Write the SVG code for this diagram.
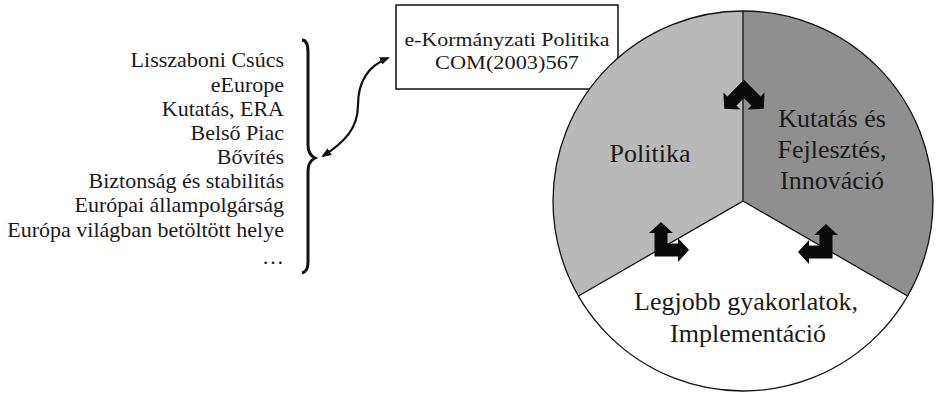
<svg xmlns="http://www.w3.org/2000/svg" width="937" height="396" viewBox="0 0 937 396">
<style>
.t{font-family:"Liberation Serif","Times New Roman",serif;fill:#1a1a1a}
.list{font-size:22px;text-anchor:end}
.box{font-size:19px;text-anchor:middle}
.big{font-size:26px;text-anchor:middle}
.line{fill:none;stroke:#111;stroke-width:1.3}
.arr{fill:#0a0a0a}
</style>
<defs>
<marker id="ah" viewBox="0 0 10 8" refX="8" refY="4" markerWidth="10" markerHeight="8" markerUnits="userSpaceOnUse" orient="auto-start-reverse">
<path d="M0,0 L10,4 L0,8 Z" fill="#111"/>
</marker>
<path id="elbow" d="M-6.5,6.5 L17,6.5 L17,12 L28,0 L17,-12 L17,-6.5 L6.5,-6.5 L6.5,-17 L12,-17 L0,-28 L-12,-17 L-6.5,-17 Z"/>
</defs>
<rect width="937" height="396" fill="#ffffff"/>

<g id="list">
<text class="t list" x="284" y="67">Lisszaboni Csúcs</text>
<text class="t list" x="284" y="92">eEurope</text>
<text class="t list" x="284" y="116">Kutatás, ERA</text>
<text class="t list" x="284" y="140">Belső Piac</text>
<text class="t list" x="284" y="164">Bővítés</text>
<text class="t list" x="284" y="188">Biztonság és stabilitás</text>
<text class="t list" x="284" y="212">Európai állampolgárság</text>
<text class="t list" x="284" y="237">Európa világban betöltött helye</text>
<text class="t list" x="284" y="264">…</text>
</g>

<g id="brace">
<path d="M302,40 C306,40 308,44 308,52 L308,145 C308,152 311,156 315,158 C311,160 308,164 308,171 L308,262 C308,268 306,272 302,273" fill="none" stroke="#111" stroke-width="3"/>
</g>

<g id="policy-box">
<rect x="396" y="5" width="222" height="84" fill="#ffffff" stroke="#111" stroke-width="1.5"/>
<text class="t box" x="507" y="45.5" textLength="205" lengthAdjust="spacingAndGlyphs">e-Kormányzati Politika</text>
<text class="t box" x="507" y="68.5" textLength="144" lengthAdjust="spacingAndGlyphs">COM(2003)567</text>
</g>

<g id="sector-politika">
<path d="M743,201 L743,11 A190,190 0 0,0 578.5,296 Z" fill="#b9b9b9"/>
<text class="t big" x="650" y="162">Politika</text>
</g>
<g id="sector-kutatas">
<path d="M743,201 L743,11 A190,190 0 0,1 907.5,296 Z" fill="#8f8f8f"/>
<text class="t big" x="832" y="127">Kutatás és</text>
<text class="t big" x="832" y="158">Fejlesztés,</text>
<text class="t big" x="832" y="189">Innováció</text>
</g>
<g id="sector-legjobb">
<path d="M743,201 L578.5,296 A190,190 0 0,0 907.5,296 Z" fill="#ffffff"/>
<text class="t big" x="746" y="310">Legjobb gyakorlatok,</text>
<text class="t big" x="748" y="342">Implementáció</text>
</g>
<g id="circle-outline">
<circle cx="743" cy="201" r="190" class="line" stroke-width="1.6"/>
<path class="line" d="M743,11 L743,201 L578.5,296 M743,201 L907.5,296"/>
</g>

<g id="connectors">
<path d="M323,156 C345,142 358,128 358,105 C358,82 368,66 388,58" fill="none" stroke="#111" stroke-width="2.2" marker-start="url(#ah)" marker-end="url(#ah)"/>
<use href="#elbow" class="arr" transform="translate(744,89) rotate(135)"/>
<use href="#elbow" class="arr" transform="translate(661,250)"/>
<use href="#elbow" class="arr" transform="translate(826,252) scale(-1,1)"/>
</g>
</svg>
